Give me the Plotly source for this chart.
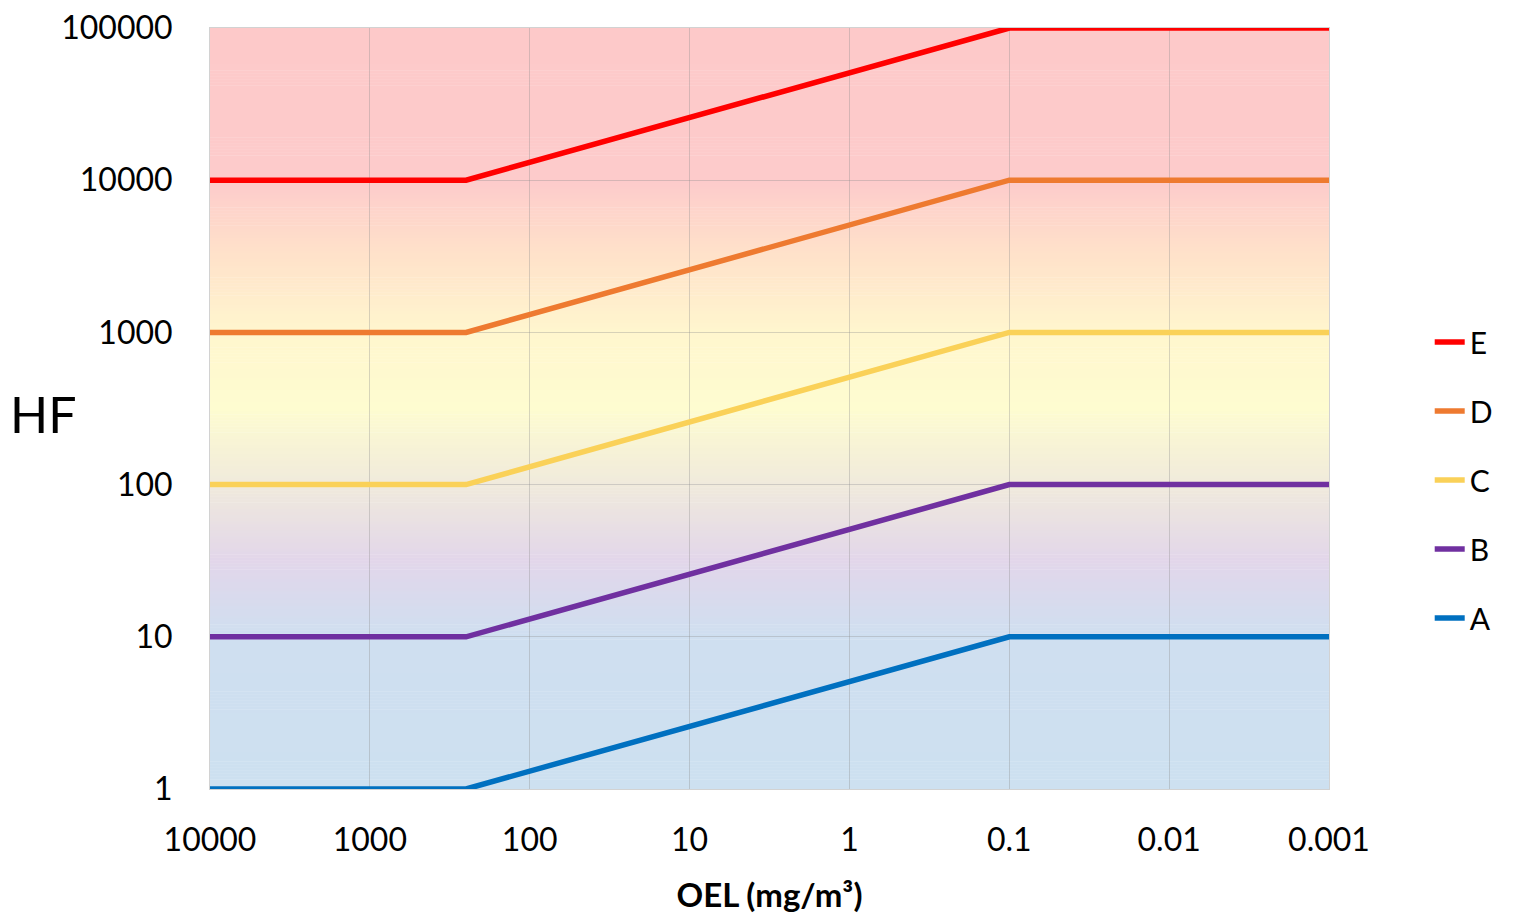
import plotly.graph_objects as go

# Data
oel = [10000, 250, 0.1, 0.001]
series_names = ["E", "D", "C", "B", "A"]
hf_A = [1, 1, 10, 10]
hf_B = [10, 10, 100, 100]
hf_C = [100, 100, 1000, 1000]
hf_D = [1000, 1000, 10000, 10000]
hf_E = [10000, 10000, 100000, 100000]
series_values = [hf_E, hf_D, hf_C, hf_B, hf_A]
series_colors = ["#ff0000", "#ee7a30", "#fad158", "#7030a0", "#0070c0"]

x_tickvals = [10000, 1000, 100, 10, 1, 0.1, 0.01, 0.001]
x_ticktext = ["10000", "1000", "100", "10", "1", "0.1", "0.01", "0.001"]
y_tickvals = [1, 10, 100, 1000, 10000, 100000]
y_ticktext = ["1", "10", "100", "1000", "10000", "100000"]

# background gradient stops (log10 HF, colour)
bg_stops = [
    (0.0, (205, 224, 240)),
    (1.0, (207, 223, 240)),
    (1.5, (226, 214, 234)),
    (2.0, (240, 234, 220)),
    (2.5, (254, 252, 208)),
    (3.0, (255, 246, 206)),
    (3.5, (255, 226, 202)),
    (4.0, (253, 203, 203)),
    (5.0, (253, 201, 201)),
]

def bg_color(v):
    for (a, ca), (b, cb) in zip(bg_stops[:-1], bg_stops[1:]):
        if a <= v <= b:
            t = (v - a) / (b - a)
            c = [round(ca[i] + t * (cb[i] - ca[i])) for i in range(3)]
            return f"rgb({c[0]},{c[1]},{c[2]})"
    return "rgb(253,201,201)"

fig = go.Figure()
for name, vals, col in zip(series_names, series_values, series_colors):
    fig.add_trace(go.Scatter(
        x=oel, y=vals, mode="lines", name=name, legendgroup=name,
        line=dict(color=col, width=5.5),
    ))

shapes = []
n = 250
for i in range(n):
    y0 = 5 * i / n
    y1 = 5 * (i + 1) / n
    shapes.append(dict(
        type="rect", xref="paper", yref="y", x0=0, x1=1,
        y0=10 ** y0, y1=10 ** (y1 + 0.003),
        fillcolor=bg_color((y0 + y1) / 2), line=dict(width=0), layer="below",
    ))

font = "Lato, 'Open Sans', sans-serif"
fig.update_layout(
    width=1522, height=914,
    margin=dict(l=202, r=201, t=20, b=133, autoexpand=False),
    paper_bgcolor="white", plot_bgcolor="white",
    shapes=shapes,
    font=dict(family=font, color="#000000", size=32),
    showlegend=True,
    legend=dict(
        x=1.09, xanchor="left", y=0.406, yanchor="middle",
        traceorder="grouped", tracegroupgap=27,
        font=dict(size=30, family=font),
        bgcolor="rgba(0,0,0,0)",
    ),
    xaxis=dict(
        type="log", range=[4, -3], automargin=False,
        tickvals=x_tickvals, ticktext=x_ticktext,
        showgrid=True, gridcolor="rgba(140,140,140,0.35)", gridwidth=1,
        showline=True, linecolor="rgba(180,180,180,0.6)", mirror=True,
        ticks="outside", ticklen=23, tickcolor="rgba(0,0,0,0)",
        tickfont=dict(size=32, family=font), ticklabeloverflow="allow",
        zeroline=False,
        title=dict(text="<b>OEL (mg/m³)</b>", font=dict(size=33, family=font), standoff=26),
    ),
    yaxis=dict(
        type="log", range=[0, 5], automargin=False,
        tickvals=y_tickvals, ticktext=y_ticktext,
        showgrid=True, gridcolor="rgba(140,140,140,0.35)", gridwidth=1,
        showline=True, linecolor="rgba(180,180,180,0.6)", mirror=True,
        ticks="outside", ticklen=30, tickcolor="rgba(0,0,0,0)",
        tickfont=dict(size=32, family=font), ticklabeloverflow="allow",
        zeroline=False,
    ),
    annotations=[dict(
        text="HF", xref="paper", yref="paper", x=-0.149, y=0.493,
        xanchor="center", yanchor="middle", showarrow=False,
        font=dict(size=50, family=font, color="#000000"),
    )],
)

fig.write_html("out.html")
